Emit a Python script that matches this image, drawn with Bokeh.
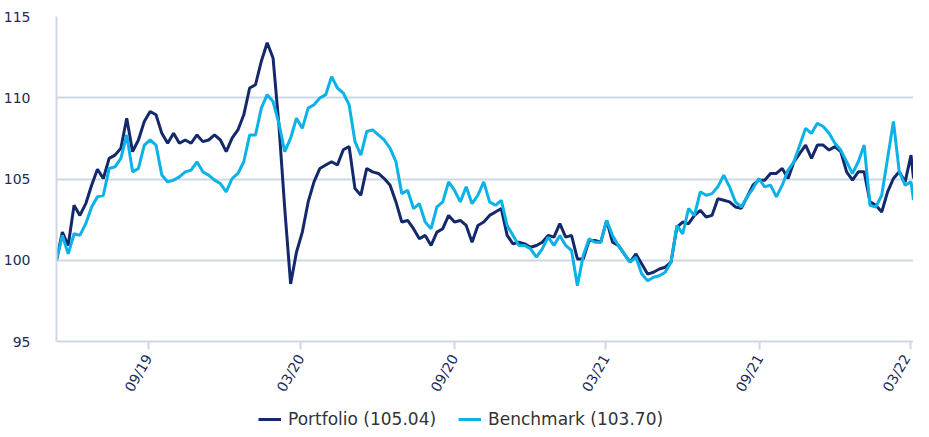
import math
import pandas as pd
from bokeh.plotting import figure
from bokeh.layouts import column
from bokeh.models import (ColumnDataSource, Range1d, FixedTicker, DatetimeTickFormatter,
                          Legend, LegendItem)
from bokeh.embed import file_html
from bokeh.resources import INLINE

start_date = "2019-05-14"
end_date = "2022-03-04"

portfolio = [
    100.00, 101.73, 100.91, 103.38, 102.76, 103.48, 104.62, 105.60, 105.03, 106.27,
    106.47, 106.89, 108.74, 106.68, 107.40, 108.54, 109.15, 108.95, 107.81, 107.20,
    107.81, 107.20, 107.40, 107.20, 107.71, 107.30, 107.40, 107.71, 107.40, 106.68,
    107.51, 108.02, 108.95, 110.60, 110.80, 112.25, 113.38, 112.45, 108.33, 103.18,
    98.54, 100.49, 101.73, 103.59, 104.82, 105.65, 105.86, 106.06, 105.86, 106.80,
    107.00, 104.41, 104.00, 105.65, 105.44, 105.34, 105.03, 104.62, 103.59, 102.35,
    102.45, 101.94, 101.32, 101.53, 100.91, 101.73, 101.94, 102.76, 102.35, 102.45,
    102.14, 101.11, 102.14, 102.35, 102.76, 102.97, 103.18, 101.53, 101.01, 101.11,
    101.01, 100.80, 100.91, 101.11, 101.53, 101.42, 102.25, 101.42, 101.53, 100.08,
    100.08, 101.22, 101.22, 101.11, 102.45, 101.11, 100.91, 100.39, 99.88, 100.39,
    99.77, 99.15, 99.26, 99.46, 99.57, 99.88, 102.04, 102.35, 102.25, 102.76,
    103.07, 102.66, 102.76, 103.79, 103.69, 103.59, 103.28, 103.20, 103.90, 104.62,
    104.93, 104.93, 105.34, 105.34, 105.65, 105.03, 106.06, 106.58, 107.09, 106.27,
    107.09, 107.09, 106.78, 106.99, 106.68, 105.44, 104.93, 105.44, 105.44, 103.59,
    103.38, 102.97, 104.21, 105.03, 105.44, 104.82, 106.47, 105.04,
]

benchmark = [
    100.00, 101.53, 100.39, 101.63, 101.53, 102.25, 103.28, 103.90, 104.00, 105.65,
    105.75, 106.27, 107.71, 105.44, 105.65, 107.09, 107.40, 107.09, 105.24, 104.82,
    104.93, 105.13, 105.44, 105.55, 106.06, 105.44, 105.24, 104.93, 104.72, 104.21,
    105.03, 105.34, 106.06, 107.71, 107.71, 109.36, 110.19, 109.77, 108.43, 106.68,
    107.51, 108.74, 108.12, 109.36, 109.57, 109.98, 110.19, 111.30, 110.60, 110.29,
    109.57, 107.30, 106.47, 107.92, 108.02, 107.71, 107.40, 106.89, 106.06, 104.10,
    104.31, 103.18, 103.48, 102.35, 101.94, 103.28, 103.59, 104.82, 104.31, 103.59,
    104.52, 103.48, 104.00, 104.82, 103.59, 103.38, 103.69, 102.14, 101.53, 100.91,
    100.91, 100.70, 100.19, 100.70, 101.42, 100.91, 101.53, 100.91, 100.60, 98.43,
    100.29, 101.32, 101.11, 101.11, 102.45, 101.53, 100.91, 100.39, 99.88, 100.19,
    99.15, 98.74, 98.95, 99.05, 99.26, 99.88, 102.14, 101.63, 103.18, 102.76,
    104.21, 104.00, 104.10, 104.52, 105.24, 104.52, 103.59, 103.28, 103.90, 104.41,
    105.03, 104.52, 104.62, 103.90, 104.62, 105.55, 106.06, 107.09, 108.12, 107.81,
    108.43, 108.23, 107.81, 107.20, 106.78, 106.06, 105.34, 106.06, 107.09, 103.38,
    103.28, 104.00, 106.27, 108.54, 105.44, 104.62, 104.82, 103.70,
]

y_ticks = [95, 100, 105, 110, 115]
x_tick_labels = ["09/19", "03/20", "09/20", "03/21", "09/21", "03/22"]
series_names = ["Portfolio (105.04)", "Benchmark (103.70)"]

# ---- build ----
dates = list(pd.date_range(start_date, periods=len(portfolio) - 1, freq="7D")) + [pd.Timestamp(end_date)]
src = ColumnDataSource(dict(date=dates, port=portfolio, bench=benchmark))

NAVY = "#13296b"
SKY = "#0ab2e8"
GRID = "#cdd7e6"
TXT = "#1c2b5a"
FONT = "DejaVu Sans"

p = figure(width=913, height=405, x_axis_type="datetime",
           output_backend="svg", toolbar_location=None,
           x_range=Range1d(pd.Timestamp(start_date), pd.Timestamp(end_date)),
           y_range=Range1d(95, 115),
           min_border_left=50, min_border_top=16, min_border_bottom=64, min_border_right=0)
p.outline_line_color = None
p.background_fill_color = "white"
p.border_fill_color = "white"

r1 = p.line("date", "port", source=src, line_color=NAVY, line_width=3)
r2 = p.line("date", "bench", source=src, line_color=SKY, line_width=3)

# y axis
p.yaxis.ticker = FixedTicker(ticks=y_ticks)
p.yaxis.axis_line_color = GRID
p.yaxis.axis_line_width = 2
p.yaxis.major_tick_line_color = None
p.yaxis.minor_tick_line_color = None
p.yaxis.major_label_standoff = 20
p.yaxis.major_label_text_font = FONT
p.yaxis.major_label_text_font_size = "14px"
p.yaxis.major_label_text_color = TXT

# x axis
tick_ms = [pd.to_datetime("01/" + s, format="%d/%m/%y").value / 1e6 for s in x_tick_labels]
p.xaxis.ticker = FixedTicker(ticks=tick_ms)
p.xaxis.formatter = DatetimeTickFormatter(months="%m/%y", years="%m/%y", days="%m/%y",
                                          strip_leading_zeros=False)
p.xaxis.axis_line_color = GRID
p.xaxis.axis_line_width = 2
p.xaxis.major_tick_line_color = GRID
p.xaxis.major_tick_line_width = 2
p.xaxis.major_tick_out = 8
p.xaxis.major_tick_in = 0
p.xaxis.minor_tick_line_color = None
p.xaxis.major_label_orientation = math.pi / 3
p.xaxis.major_label_standoff = 6
p.xaxis.major_label_text_font = FONT
p.xaxis.major_label_text_font_size = "14px"
p.xaxis.major_label_text_color = TXT

p.xgrid.grid_line_color = None
p.ygrid.ticker = FixedTicker(ticks=y_ticks)
p.ygrid.grid_line_color = GRID
p.ygrid.grid_line_width = 2

# ---- legend strip below the chart (series drawn out of view, only the legend shows) ----
p2 = figure(width=913, height=24, output_backend="svg", toolbar_location=None,
            x_range=Range1d(0, 1), y_range=Range1d(0, 1),
            min_border=0, outline_line_color=None)
p2.axis.visible = False
p2.grid.visible = False
l1 = p2.line("date", "port", source=src, line_color=NAVY, line_width=3)
l2 = p2.line("date", "bench", source=src, line_color=SKY, line_width=3)
legend = Legend(items=[LegendItem(label=series_names[0], renderers=[l1]),
                       LegendItem(label=series_names[1], renderers=[l2])],
                orientation="horizontal", location=(202, 0),
                label_text_font=FONT, label_text_font_size="17px", label_text_color="#333333",
                glyph_width=23, glyph_height=20, label_standoff=7, spacing=22,
                padding=0, margin=0, border_line_color=None, background_fill_alpha=0)
p2.add_layout(legend, "center")

open("out.html", "w").write(file_html(column(p, p2, spacing=0), INLINE))
